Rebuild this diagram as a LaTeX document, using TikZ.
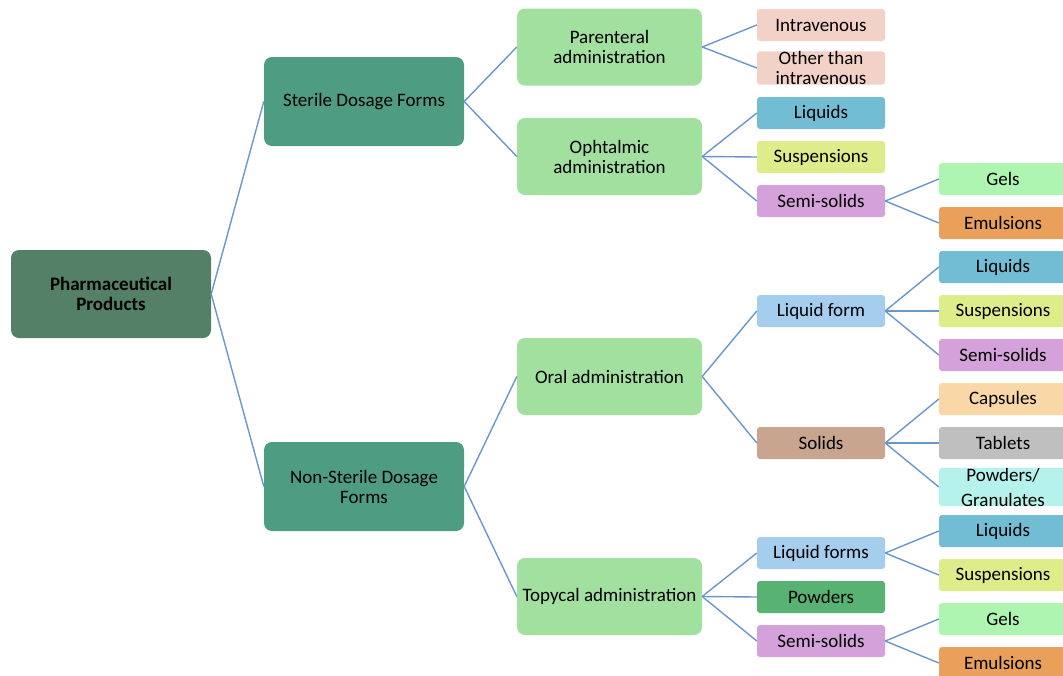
\documentclass[tikz,border=0pt]{standalone}
\usepackage{fontspec}
\setmainfont{Carlito}
\definecolor{rootc}{HTML}{538066}
\definecolor{lvone}{HTML}{4E9D82}
\definecolor{lvtwo}{HTML}{A2E09F}
\definecolor{edgec}{HTML}{6A97CB}
\definecolor{cIv}{HTML}{F2D1C7}
\definecolor{cLiq}{HTML}{72BCD4}
\definecolor{cSus}{HTML}{DFEC8A}
\definecolor{cSemi}{HTML}{D5A1DA}
\definecolor{cGel}{HTML}{AEF5B1}
\definecolor{cEmu}{HTML}{E9A05B}
\definecolor{cLform}{HTML}{A4CDEE}
\definecolor{cSol}{HTML}{C8A58F}
\definecolor{cCap}{HTML}{F9D7A7}
\definecolor{cTab}{HTML}{BFBFBF}
\definecolor{cPowGr}{HTML}{B5F2EC}
\definecolor{cPow}{HTML}{57B273}
\tikzset{
  box/.style={inner sep=0pt, align=center, text=black,
    font=\fontsize{19}{20}\selectfont},
  rootbox/.style={box, fill=rootc, rounded corners=8pt,
    minimum width=200pt, minimum height=88pt, font=\fontsize{19}{20}\selectfont\bfseries},
  onebox/.style={box, fill=lvone, rounded corners=8pt,
    minimum width=200pt, minimum height=89pt},
  twobox/.style={box, fill=lvtwo, rounded corners=8pt,
    minimum width=185pt, minimum height=77pt},
  leaf/.style={box, rounded corners=3pt,
    minimum width=128pt, minimum height=32pt},
  link/.style={draw=edgec, line width=1.4pt}
}
\begin{document}
\begin{tikzpicture}[x=1pt,y=-1pt]
\useasboundingbox (0,0) rectangle (1063,675);
\clip (0,0) rectangle (1063,675);

% root and first level
\node[rootbox] (root) at (111,294) {Pharmaceutical\\Products};
\node[onebox] (ster) at (364,101.5) {Sterile Dosage Forms};
\node[onebox] (nons) at (364,486.5) {Non-Sterile Dosage\\Forms};

% routes of administration
\node[twobox] (par) at (609.5,47) {Parenteral\\administration};
\node[twobox] (oph) at (609.5,156.5) {Ophtalmic\\administration};
\node[twobox] (oral) at (609.5,376.5) {Oral administration};
\node[twobox] (top) at (609.5,596.5) {Topycal administration};

% third level
\node[leaf, fill=cIv] (iv) at (821,25) {Intravenous};
\node[leaf, fill=cIv] (oiv) at (821,68) {Other than\\intravenous};
\node[leaf, fill=cLiq] (oliq) at (821,113) {Liquids};
\node[leaf, fill=cSus] (osus) at (821,157) {Suspensions};
\node[leaf, fill=cSemi] (osemi) at (821,201) {Semi-solids};
\node[leaf, fill=cLform] (lform) at (821,311) {Liquid form};
\node[leaf, fill=cSol] (sol) at (821,443) {Solids};
\node[leaf, fill=cLform] (lforms) at (821,553) {Liquid forms};
\node[leaf, fill=cPow] (tpow) at (821,597) {Powders};
\node[leaf, fill=cSemi] (tsemi) at (821,641) {Semi-solids};

% fourth level
\node[leaf, fill=cGel] (ogel) at (1003,179) {Gels};
\node[leaf, fill=cEmu] (oemu) at (1003,223) {Emulsions};
\node[leaf, fill=cLiq] (rliq) at (1003,267) {Liquids};
\node[leaf, fill=cSus] (rsus) at (1003,311) {Suspensions};
\node[leaf, fill=cSemi] (rsemi) at (1003,355) {Semi-solids};
\node[leaf, fill=cCap] (cap) at (1003,399) {Capsules};
\node[leaf, fill=cTab] (tab) at (1003,443) {Tablets};
\node[leaf, fill=cPowGr, font=\fontsize{19}{25}\selectfont] (pgr) at (1003,487) {Powders/\\Granulates};
\node[leaf, fill=cLiq] (tliq) at (1003,531) {Liquids};
\node[leaf, fill=cSus] (tsus) at (1003,575) {Suspensions};
\node[leaf, fill=cGel] (tgel) at (1003,619) {Gels};
\node[leaf, fill=cEmu] (temu) at (1003,663) {Emulsions};

% connectors
\foreach \p/\c in {root/ster, root/nons,
  ster/par, ster/oph, nons/oral, nons/top,
  par/iv, par/oiv, oph/oliq, oph/osus, oph/osemi,
  osemi/ogel, osemi/oemu,
  oral/lform, oral/sol,
  lform/rliq, lform/rsus, lform/rsemi,
  sol/cap, sol/tab, sol/pgr,
  top/lforms, top/tpow, top/tsemi,
  lforms/tliq, lforms/tsus,
  tsemi/tgel, tsemi/temu}
  \draw[link] (\p.east) -- (\c.west);
\end{tikzpicture}
\end{document}
